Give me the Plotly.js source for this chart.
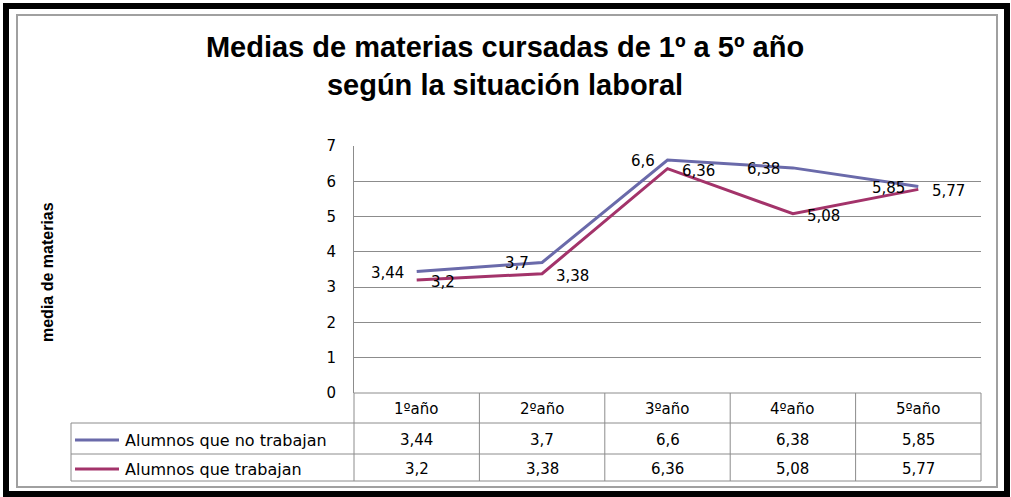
<!DOCTYPE html>
<html>
<head>
<meta charset="utf-8">
<script src="https://cdn.plot.ly/plotly-3.0.1.min.js"></script>
<style>
  html, body { margin: 0; padding: 0; background: #ffffff; }
  #chart { width: 1011px; height: 497px; }
</style>
</head>
<body>
<div id="chart"></div>
<script>
// ---- data ----
var categories = ["1ºaño", "2ºaño", "3ºaño", "4ºaño", "5ºaño"];
var seriesNames = ["Alumnos que no trabajan", "Alumnos que trabajan"];
var noTrabajan = [3.44, 3.7, 6.6, 6.38, 5.85];
var trabajan = [3.2, 3.38, 6.36, 5.08, 5.77];
var yTicks = [0, 1, 2, 3, 4, 5, 6, 7];
var titleText = "Medias de materias cursadas de 1º a 5º año<br>según la situación laboral";
var yTitle = "media de materias";

// ---- style ----
var colors = ["#6A6AAA", "#A3336A"];
var W = 1011, H = 497;
var PL = 354, PR = 981, PT = 146, PB = 393;
function px(x) { return (x - PL) / (PR - PL); }
function py(y) { return (PB - y) / (PB - PT); }
function fmt(v) { return String(v).replace('.', ','); }
var baseFont = "DejaVu Sans, Verdana, sans-serif";
var idx = categories.map(function (c, i) { return i; });
var allSeries = [noTrabajan, trabajan];

var traces = allSeries.map(function (vals, s) {
  return {
    type: "scatter", mode: "lines", x: idx, y: vals, name: seriesNames[s],
    line: { color: colors[s], width: 3 }, hoverinfo: "skip", showlegend: false
  };
});

var shapes = [];
var annotations = [];
var gridGray = "#8c8c8c";

// frames
shapes.push({ type: "rect", xref: "paper", yref: "paper", x0: px(6), x1: px(1007), y0: py(6), y1: py(494),
  line: { color: "#000000", width: 6 }, layer: "below" });
shapes.push({ type: "rect", xref: "paper", yref: "paper", x0: px(17), x1: px(997), y0: py(15), y1: py(487),
  line: { color: "#a0a0a0", width: 2 }, layer: "below" });

// data table
var rowY = [py(393), py(423), py(454), py(481)];
var legendLeft = px(71);
var n = categories.length;
for (var i = 0; i <= n; i++) {
  shapes.push({ type: "line", xref: "paper", yref: "paper", x0: i / n, x1: i / n, y0: rowY[0], y1: rowY[3],
    line: { color: gridGray, width: 1 } });
}
shapes.push({ type: "line", xref: "paper", yref: "paper", x0: legendLeft, x1: legendLeft, y0: rowY[1], y1: rowY[3],
  line: { color: gridGray, width: 1 } });
shapes.push({ type: "line", xref: "paper", yref: "paper", x0: 0, x1: 1, y0: rowY[0], y1: rowY[0],
  line: { color: gridGray, width: 1 } });
for (var r = 1; r <= 3; r++) {
  shapes.push({ type: "line", xref: "paper", yref: "paper", x0: legendLeft, x1: 1, y0: rowY[r], y1: rowY[r],
    line: { color: gridGray, width: 1 } });
}
var textY = [py(409), py(440), py(469)];
categories.forEach(function (c, i) {
  annotations.push({ xref: "x", yref: "paper", x: i, y: textY[0], text: c, showarrow: false,
    xanchor: "center", yanchor: "middle", font: { family: baseFont, size: 15, color: "#000" } });
});
allSeries.forEach(function (vals, s) {
  vals.forEach(function (v, i) {
    annotations.push({ xref: "x", yref: "paper", x: i, y: textY[s + 1], text: fmt(v), showarrow: false,
      xanchor: "center", yanchor: "middle", font: { family: baseFont, size: 15, color: "#000" } });
  });
  shapes.push({ type: "line", xref: "paper", yref: "paper", x0: px(75), x1: px(119), y0: textY[s + 1], y1: textY[s + 1],
    line: { color: colors[s], width: 3 } });
  annotations.push({ xref: "paper", yref: "paper", x: px(123), y: textY[s + 1], text: seriesNames[s], showarrow: false,
    xanchor: "left", yanchor: "middle", font: { family: baseFont, size: 16, color: "#000" } });
});

// data labels
allSeries.forEach(function (vals, s) {
  vals.forEach(function (v, i) {
    annotations.push({ xref: "x", yref: "y", x: i, y: v, text: fmt(v), showarrow: false,
      xanchor: s === 0 ? "right" : "left", yanchor: "middle",
      xshift: s === 0 ? -11 : 12, yshift: s === 0 ? -1 : -2,
      font: { family: baseFont, size: 15, color: "#000" } });
  });
});

// y-axis title
annotations.push({ xref: "paper", yref: "paper", x: px(47), y: py(272), text: "<b>" + yTitle + "</b>", showarrow: false,
  textangle: -90, xanchor: "center", yanchor: "middle", font: { family: "Liberation Sans, Arial, sans-serif", size: 16, color: "#000" } });

var layout = {
  width: W, height: H,
  margin: { l: PL, r: W - PR, t: PT, b: H - PB, pad: 0 },
  paper_bgcolor: "#ffffff", plot_bgcolor: "#ffffff",
  title: { text: "<b>" + titleText + "</b>", x: 505 / W, xanchor: "center", xref: "container",
    y: 1 - 57 / H, yanchor: "middle", yref: "container",
    font: { family: "Liberation Sans, Arial, sans-serif", size: 29, color: "#000" } },
  xaxis: { range: [-0.5, n - 0.5], showticklabels: false, showgrid: false, zeroline: false,
    showline: false, ticks: "", fixedrange: true },
  yaxis: { range: [0, 7], tickvals: yTicks, ticktext: yTicks.map(String), showgrid: true, gridcolor: gridGray, gridwidth: 1,
    zeroline: false, showline: true, linecolor: gridGray, linewidth: 1, ticks: "", ticklabelstandoff: 14,
    tickfont: { family: baseFont, size: 15, color: "#000" }, fixedrange: true },
  shapes: shapes,
  annotations: annotations,
  showlegend: false
};

Plotly.newPlot("chart", traces, layout, { staticPlot: true, displayModeBar: false });
</script>
</body>
</html>
